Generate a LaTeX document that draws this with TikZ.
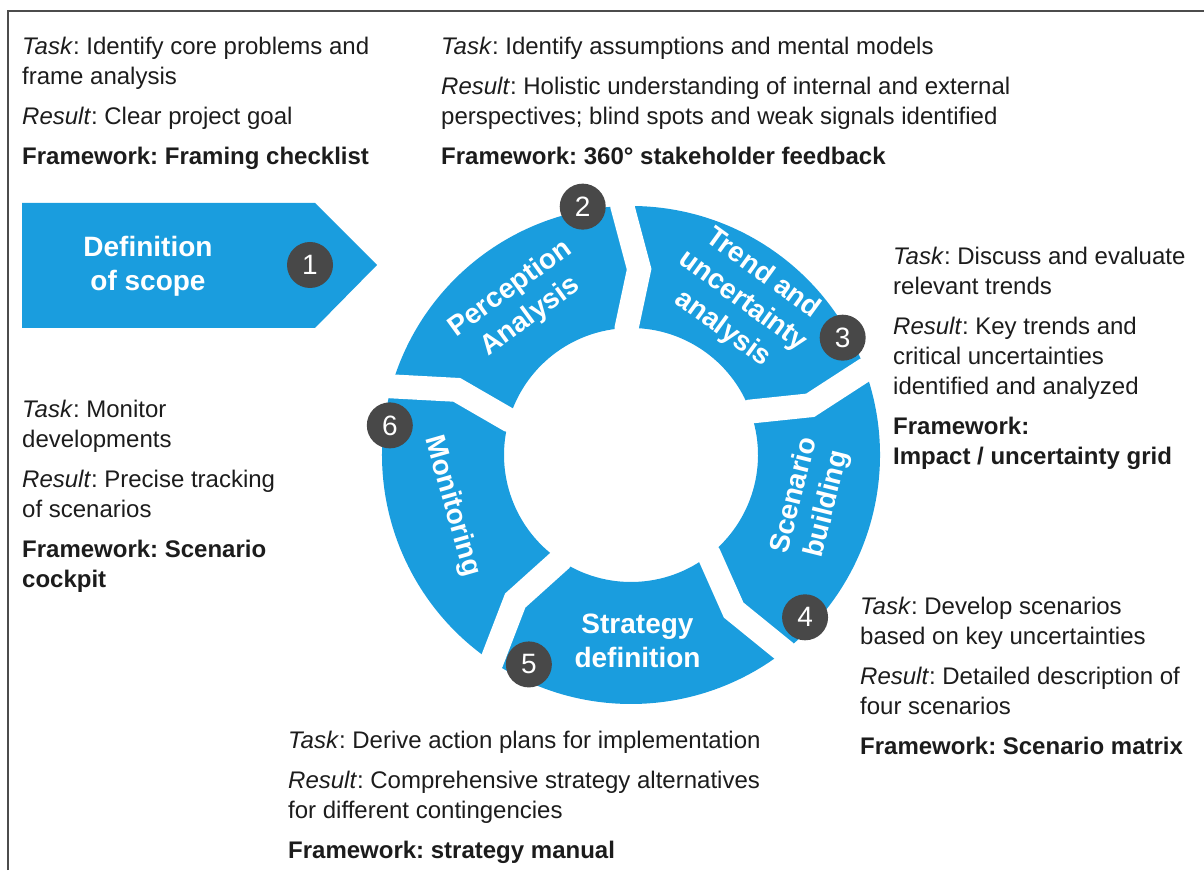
\documentclass[tikz,border=0pt]{standalone}
\usepackage{fontspec}
\setmainfont{Liberation Sans}
\frenchspacing
\definecolor{ringblue}{RGB}{26,157,222}
\definecolor{numgray}{RGB}{72,72,72}
\definecolor{txtgray}{RGB}{28,28,28}
\begin{document}
\begin{tikzpicture}[x=1pt,y=1pt,
	seg/.style={fill=ringblue},
	lbl/.style={text=white,align=center,inner sep=0pt,font=\fontsize{28}{34}\selectfont\bfseries},
	num/.style={circle,fill=numgray,text=white,minimum size=46pt,inner sep=0pt,font=\fontsize{28}{28}\selectfont},
	info/.style={anchor=base west,align=left,inner sep=0pt,text=txtgray,font=\fontsize{24}{30}\selectfont}]
\useasboundingbox (0,0) rectangle (1204,870);
\draw[line width=1.6pt,gray!60!black] (8,0) -- (8,859) -- (1204,859);
\fill[seg] (22,542) -- (315,542) -- (377,605) -- (315,667) -- (22,667) -- cycle;
\node[lbl] (scope) at (148,604) {Definition\\of scope};
\node[num] (n1) at (310,605) {1};
\begin{scope}[shift={(631,415)}]
\foreach \a in {92,20,-52,-124,-196}{
	\fill[seg] (\a:249) arc[start angle=\a,end angle=\a-72,radius=249] -- ({\a-76.5}:186)
		-- ({\a-72}:127) arc[start angle=\a-72,end angle=\a,radius=127] -- ({\a-4.5}:186) -- cycle;}
\foreach \a in {92,20,-52,-124,-196}{
	\draw[white,line width=24pt] (\a:264) -- (\a:249) -- ({\a-4.5}:186) -- (\a:127) -- (\a:112);}
\node[lbl,rotate=36] (perception) at (126:188) {Perception\\Analysis};
\node[lbl,rotate=-36] (trend) at (54:190) {Trend and\\uncertainty\\analysis};
\node[lbl,rotate=76] (scenario) at (-14:186) {Scenario\\building};
\node[lbl] (strategy) at (-88:186) {Strategy\\definition};
\node[lbl,rotate=-74] (monitoring) at (196:186) {Monitoring};
\foreach \ang/\rad/\n in {101/253/2,29/242/3,-43/238/4,-116/233/5,173/243/6}{
	\node[num] (n\n) at (\ang:\rad) {\n};}
\end{scope}
\node[info] (t1) at (22,705) {\textit{Task}: Identify core problems and\\frame analysis\\[10pt]
	\textit{Result}: Clear project goal\\[10pt]\textbf{Framework: Framing checklist}};
\node[info] (t2) at (441,705) {\textit{Task}: Identify assumptions and mental models\\[10pt]
	\textit{Result}: Holistic understanding of internal and external\\perspectives; blind spots and weak signals identified\\[10pt]
	\textbf{Framework: 360° stakeholder feedback}};
\node[info] (t3) at (893,405) {\textit{Task}: Discuss and evaluate\\relevant trends\\[10pt]
	\textit{Result}: Key trends and\\critical uncertainties\\identified and analyzed\\[10pt]
	\textbf{Framework:}\\\textbf{Impact / uncertainty grid}};
\node[info] (t4) at (860,115) {\textit{Task}: Develop scenarios\\based on key uncertainties\\[10pt]
	\textit{Result}: Detailed description of\\four scenarios\\[10pt]\textbf{Framework: Scenario matrix}};
\node[info] (t5) at (288,12) {\textit{Task}: Derive action plans for implementation\\[10pt]
	\textit{Result}: Comprehensive strategy alternatives\\for different contingencies\\[10pt]
	\textbf{Framework: strategy manual}};
\node[info] (t6) at (22,282) {\textit{Task}: Monitor\\developments\\[10pt]
	\textit{Result}: Precise tracking\\of scenarios\\[10pt]\textbf{Framework: Scenario}\\\textbf{cockpit}};
\end{tikzpicture}
\end{document}
